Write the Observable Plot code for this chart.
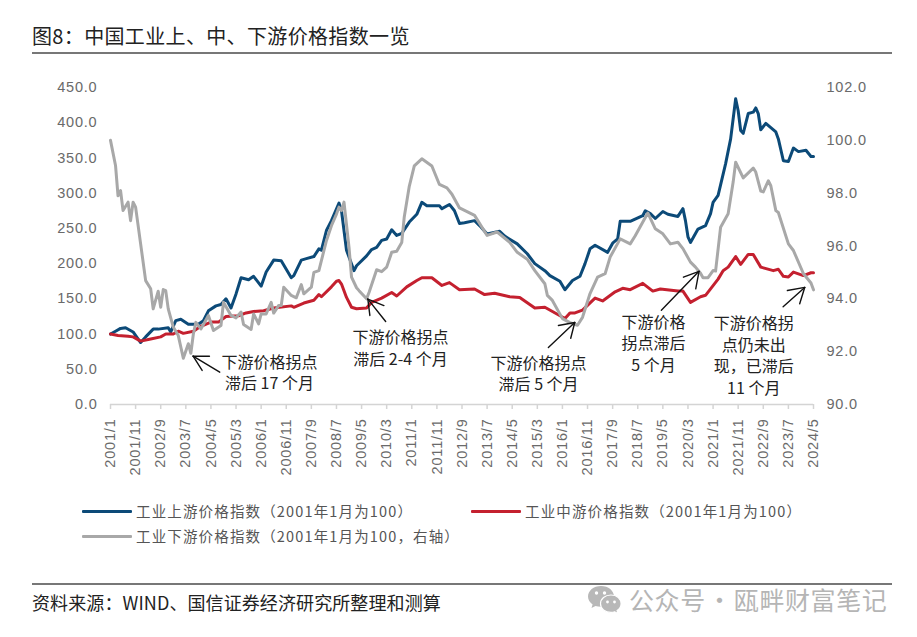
<!DOCTYPE html>
<html lang="zh">
<head>
<meta charset="utf-8">
<script src="https://cdn.jsdelivr.net/npm/d3@7"></script>
<script src="https://cdn.jsdelivr.net/npm/@observablehq/plot@0.6"></script>
<style>
html,body{margin:0;padding:0;background:#fff;width:917px;height:637px;overflow:hidden}
body{position:relative;font-family:"Noto Sans CJK SC","Noto Sans",sans-serif}
#chart{position:absolute;left:0;top:0}
#chart g[aria-label*="tick label"] text{letter-spacing:.8px}
.abs{position:absolute;white-space:nowrap;line-height:1}
.rule{position:absolute;left:32px;width:860px;height:2px;background:#777}
.swatch{position:absolute;width:50px;height:3px;border-radius:1px}
</style>
</head>
<body>
<div class="abs" style="left:32px;top:25.500px;font-size:20px;color:#222;letter-spacing:.35px">图8：中国工业上、中、下游价格指数一览</div>
<div class="rule" style="top:52px"></div>
<div id="chart"></div>
<div id="legend"></div>
<div class="rule" style="top:583px"></div>
<div class="abs" style="left:32px;top:593px;font-size:18px;color:#222;letter-spacing:.1px">资料来源：WIND、国信证券经济研究所整理和测算</div>
<svg class="abs" style="left:587px;top:585px" width="36" height="30" viewBox="0 0 36 30">
  <path d="M14 1C6.5 1 1 5.8 1 11.5c0 3.2 1.8 6 4.6 8L4.5 23l4-2c1.6.5 3.4.8 5.2.8C23 21.800 27 16.500 27 11.500 27 5.800 21.500 1 14 1z" fill="#b8b8b8"/>
  <path d="M24 10c-6 0-10.500 3.900-10.500 8.700S18 27.400 24 27.400c1.300 0 2.600-.2 3.700-.6l3.300 1.800-.9-3c2.400-1.600 4-4 4-6.900C34.100 13.900 30 10 24 10z" fill="#b8b8b8" stroke="#fff" stroke-width="1.200"/>
  <circle cx="9.500" cy="8" r="1.700" fill="#fff"/><circle cx="17.500" cy="8" r="1.700" fill="#fff"/>
  <circle cx="20.500" cy="17" r="1.400" fill="#fff"/><circle cx="27.500" cy="17" r="1.400" fill="#fff"/>
</svg>
<div class="abs" style="left:629px;top:587px;font-size:25px;color:#b5b5b5;letter-spacing:.6px;word-spacing:-5px">公众号 · 瓯畔财富笔记</div>
<script>
// x position = months since 2001/1
const tickMonths = [0,10,20,30,40,50,60,70,80,90,100,110,120,130,140,150,160,170,180,190,200,210,220,230,240,250,260,270,280];
const tickLabels = ["2001/1","2001/11","2002/9","2003/7","2004/5","2005/3","2006/1","2006/11","2007/9","2008/7","2009/5","2010/3","2011/1","2011/11","2012/9","2013/7","2014/5","2015/3","2016/1","2016/11","2017/9","2018/7","2019/5","2020/3","2021/1","2021/11","2022/9","2023/7","2024/5"];
const leftTicks = [0,50,100,150,200,250,300,350,400,450];
const rightTicks = [90,92,94,96,98,100,102];

const upMonths = [0,2,4,6,9,12,14,17,19,23,24,26,28,31,35,37,39,42,44,46,48,50,52,55,57,60,62,65,68,72,73,76,78,81,83,84,86,88,91,92,94,97,98,102,104,106,108,110,112,114,116,119,122,124,126,131,132,135,137,139,141,145,147,150,155,157,162,166,169,173,175,179,181,184,187,189,191,193,198,200,202,203,207,212,213,215,217,220,222,226,228,229,230,231,234,237,239,240,242,245,247,249,250,251,252,254,256,257,258,259,261,265,266,268,270,272,274,277,279,280];
const upValues = [100,104,108,109,103,88,96,107,107,109,103,119,121,114,114,119,133,140,142,150,137,157,180,177,182,168,188,205,204,180,183,205,207,210,221,219,247,261,286,275,219,190,197,211,220,223,233,235,248,240,243,259,270,287,282,282,278,284,275,257,258,261,254,242,246,239,228,214,200,190,183,175,163,176,182,200,221,226,216,229,235,260,260,268,275,271,264,274,270,267,278,261,238,230,249,254,271,287,297,342,377,434,417,389,385,413,415,421,413,390,399,387,377,346,345,364,359,361,352,352];

const midMonths = [0,3,7,9,12,16,20,22,25,27,29,33,36,40,43,46,51,54,57,61,65,72,73,77,81,83,84,88,90,91,92,94,96,98,102,104,108,112,114,118,122,124,128,132,135,139,145,149,153,159,163,169,173,181,183,185,188,193,196,201,204,207,212,216,219,226,228,231,235,237,242,244,246,249,251,254,256,259,264,266,268,270,272,276,279,280];
const midValues = [100,98,97,96,90,93,96,100,100,104,101,104,111,117,117,125,126,130,132,133,137,140,138,144,148,156,153,167,175,176,171,152,138,136,137,145,151,159,154,167,176,180,180,169,173,163,164,156,158,153,152,137,138,122,130,130,134,151,147,160,165,163,172,161,164,161,161,145,153,155,178,190,195,210,199,213,213,195,190,192,182,181,188,183,187,187];

const lowMonths = [0,2,3,4,5,7,8,9,10,12,14,16,17,19,20,21,22,23,25,27,29,31,32,33,34,36,39,41,44,45,48,50,52,53,56,57,59,60,62,64,65,67,68,69,72,74,76,77,80,81,83,84,86,88,90,91,92,93,95,96,98,99,102,103,106,108,110,112,114,116,117,119,121,124,128,131,134,136,139,145,150,154,159,162,166,169,173,174,176,180,183,186,188,191,194,197,199,203,207,209,214,217,220,223,226,228,231,233,235,236,238,240,241,243,246,248,249,252,256,257,259,260,262,263,265,266,270,272,276,279,280];
const lowValues = [100.0,99.05,97.9,98.1,97.34,97.66,96.96,97.66,97.47,96.08,94.69,94.38,93.62,94.29,93.68,94.35,94.31,93.62,92.93,92.61,91.75,92.3,91.94,92.67,93.11,92.86,93.37,92.8,92.99,93.87,93.37,93.28,93.5,93.03,92.84,93.43,93.05,93.43,93.43,93.87,93.46,93.75,93.75,94.44,94.13,94.04,94.54,94.19,94.44,95.0,95.07,95.45,96.2,96.77,97.21,97.47,97.34,97.66,95.95,94.82,94.42,94.31,94.0,94.25,95.1,95.03,95.2,95.76,95.8,96.13,97.1,98.26,99.03,99.3,99.03,98.33,98.2,97.96,97.44,97.16,96.4,96.53,96.14,95.76,95.5,95.07,94.57,94.13,93.94,93.25,93.1,93.0,93.3,94.2,94.82,94.95,95.58,96.27,96.08,96.39,97.25,96.65,96.46,96.08,96.14,95.9,95.39,95.2,94.97,94.8,94.8,95.07,95.05,96.71,97.22,98.42,99.17,98.58,98.95,98.8,98.08,98.05,98.47,98.28,97.34,97.27,96.08,95.83,94.95,94.6,94.34];

const noteTexts = ["下游价格拐点\n滞后 17 个月","下游价格拐点\n滞后 2-4 个月","下游价格拐点\n滞后 5 个月","下游价格\n拐点滞后\n5 个月","下游价格拐\n点仍未出\n现，已滞后\n11 个月"];
const noteMonths = [63.3,115.5,170.5,216.3,256.2];
const noteLevels = [46.8,81.6,45.4,88,71];
const arrowFromMonths = [43.5,109.6,174.4,219.4,267.9];
const arrowFromLevels = [45.9,117.9,80.9,133.7,138.7];
const arrowToMonths = [32.9,102.5,184.9,234.4,276.5];
const arrowToLevels = [68.6,149.6,116.4,189,166.2];
const barbAMonths = [39.4,108.9,178.4,228.2,269.6];
const barbALevels = [68.6,140.5,112.2,180.7,161.8];
const barbBMonths = [36.5,103.3,183.3,233.1,274.5];
const barbBLevels = [48.3,126.4,94.1,164.3,143];

const seriesNames = ["工业上游价格指数（2001年1月为100）","工业中游价格指数（2001年1月为100）","工业下游价格指数（2001年1月为100，右轴）"];
const seriesColors = ["#0c4a78","#c4202f","#a8a8a8"];
const legendLeft = [82,471,82];
const legendTop = [511,511,536];

// Right axis (90–102) is drawn through the shared y scale (0–450)
const toLeft = d3.scaleLinear([90,102],[0,450]);
const tickFont = {fontFamily:"'Liberation Sans',sans-serif",fontSize:14.5,fill:"#6a6a6a"};
const linkStyle = {stroke:"#111",strokeWidth:1.4,strokeLinecap:"round"};

const plot = Plot.plot({
  width:917, height:470,
  marginLeft:110, marginRight:104, marginTop:87, marginBottom:66,
  style:{background:"transparent",overflow:"visible"},
  x:{domain:[0,280]},
  y:{domain:[0,450]},
  marks:[
    Plot.ruleY([0],{stroke:"#d4d4d4",strokeWidth:1.5}),
    Plot.axisX({ticks:tickMonths,tickFormat:(d)=>tickLabels[tickMonths.indexOf(d)],tickRotate:-90,tickSize:5,tickPadding:9,stroke:"#d4d4d4",strokeOpacity:1,strokeWidth:1.5,label:null,...tickFont}),
    Plot.axisY({anchor:"left",ticks:leftTicks,tickFormat:(d)=>d.toFixed(1),tickSize:0,tickPadding:13,label:null,...tickFont}),
    Plot.axisY({anchor:"right",ticks:rightTicks.map(toLeft),tickFormat:(d)=>toLeft.invert(d).toFixed(1),tickSize:0,tickPadding:13,label:null,...tickFont}),
    Plot.line(upValues,{x:upMonths,y:(d)=>d,stroke:seriesColors[0],strokeWidth:3}),
    Plot.line(midValues,{x:midMonths,y:(d)=>d,stroke:seriesColors[1],strokeWidth:3}),
    Plot.line(lowValues,{x:lowMonths,y:(d)=>toLeft(d),stroke:seriesColors[2],strokeWidth:3}),
    Plot.link(noteTexts,{x1:arrowFromMonths,y1:arrowFromLevels,x2:arrowToMonths,y2:arrowToLevels,...linkStyle}),
    Plot.link(noteTexts,{x1:barbAMonths,y1:barbALevels,x2:arrowToMonths,y2:arrowToLevels,...linkStyle}),
    Plot.link(noteTexts,{x1:barbBMonths,y1:barbBLevels,x2:arrowToMonths,y2:arrowToLevels,...linkStyle}),
    Plot.text(noteTexts,{x:noteMonths,y:noteLevels,text:(d)=>d,fontSize:16,lineHeight:1.34,fill:"#222",fontFamily:"'Noto Sans CJK SC',sans-serif"})
  ]
});
document.getElementById("chart").append(plot);

const legend = document.getElementById("legend");
seriesNames.forEach((name,i)=>{
  const s=document.createElement("div");
  s.className="swatch";
  s.style.cssText=`left:${legendLeft[i]}px;top:${legendTop[i]-1}px;background:${seriesColors[i]}`;
  legend.append(s);
  const t=document.createElement("div");
  t.className="abs";
  t.textContent=name;
  t.style.cssText=`left:${legendLeft[i]+54}px;top:${legendTop[i]-7}px;font-size:14.5px;color:#555;letter-spacing:1.15px`;
  legend.append(t);
});
</script>
</body>
</html>
